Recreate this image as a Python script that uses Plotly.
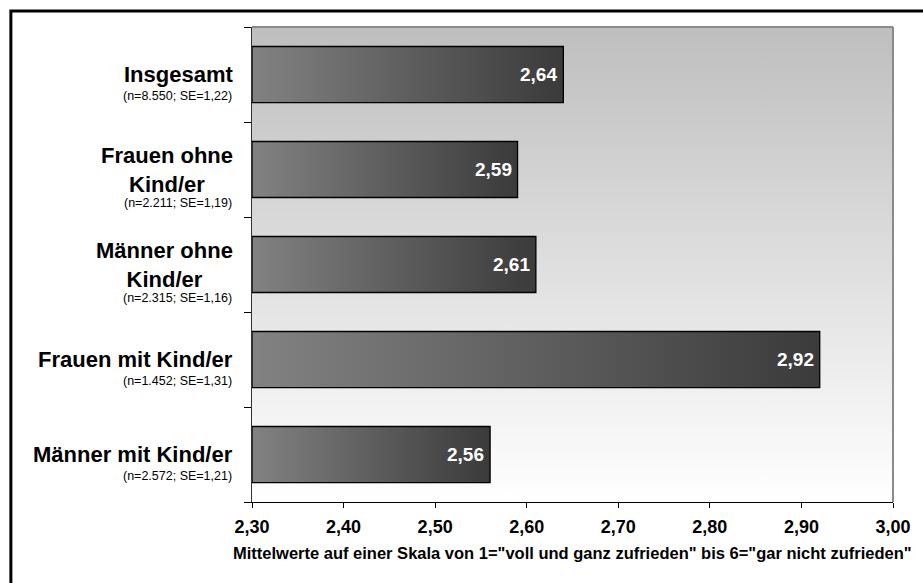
import plotly.graph_objects as go

# Mean satisfaction scores by group (1 = "voll und ganz zufrieden" ... 6 = "gar nicht zufrieden")
GROUPS = [
    "Insgesamt",
    "Frauen ohne<br>Kind/er",
    "Männer ohne<br>Kind/er",
    "Frauen mit Kind/er",
    "Männer mit Kind/er",
]
SAMPLE_INFO = [
    "(n=8.550; SE=1,22)",
    "(n=2.211; SE=1,19)",
    "(n=2.315; SE=1,16)",
    "(n=1.452; SE=1,31)",
    "(n=2.572; SE=1,21)",
]
MEANS = [2.64, 2.59, 2.61, 2.92, 2.56]
X_TICKS = [2.30, 2.40, 2.50, 2.60, 2.70, 2.80, 2.90, 3.00]
X_TITLE = 'Mittelwerte auf einer Skala von 1="voll und ganz zufrieden" bis 6="gar nicht zufrieden"'

X_MIN, X_MAX = X_TICKS[0], X_TICKS[-1]
FONT = "Liberation Sans, Arial, Helvetica, sans-serif"
BAR_HALF = 0.295

W, H = 923, 583
M_L, M_R, M_T, M_B = 252, 25, 27, 81
plot_w = W - M_L - M_R
plot_h = H - M_T - M_B

n = len(GROUPS)
idx = list(range(n))
y_lo, y_hi = -0.5, n - 0.5

fig = go.Figure()

# plot-area background: grey at the top fading to white at the bottom
fig.add_trace(go.Scatter(
    x=[X_MIN, X_MAX, X_MAX, X_MIN, X_MIN],
    y=[y_lo, y_lo, y_hi, y_hi, y_lo],
    mode="lines", line=dict(width=0), fill="toself",
    fillgradient=dict(type="vertical", start=y_hi, stop=y_lo,
                      colorscale=[[0, "#ffffff"], [1, "#bebebe"]]),
    hoverinfo="skip", showlegend=False,
))

# bars with a light-to-dark horizontal gradient
for i, v in zip(idx, MEANS):
    fig.add_trace(go.Scatter(
        x=[X_MIN, v, v, X_MIN, X_MIN],
        y=[i - BAR_HALF, i - BAR_HALF, i + BAR_HALF, i + BAR_HALF, i - BAR_HALF],
        mode="lines", line=dict(color="#000000", width=1.3), fill="toself",
        fillgradient=dict(type="horizontal", start=X_MIN, stop=v,
                          colorscale=[[0, "#828282"], [1, "#3a3a3a"]]),
        hoverinfo="skip", showlegend=False,
    ))

annotations = []
# value labels inside the bar ends
for i, v in zip(idx, MEANS):
    annotations.append(dict(
        x=v, y=i, xref="x", yref="y", xanchor="right", yanchor="middle",
        xshift=-4, text=f"{v:.2f}".replace(".", ","), showarrow=False,
        font=dict(family=FONT, size=19, color="#ffffff", weight="bold"),
    ))

# group labels with sample information underneath
for i, (g, s) in enumerate(zip(GROUPS, SAMPLE_INFO)):
    lines = g.count("<br>") + 1
    annotations.append(dict(
        x=0, y=i, xref="x domain", yref="y", xanchor="right", yanchor="middle",
        xshift=-17, align="center", text=g, showarrow=False,
        font=dict(family=FONT, size=22, color="#000000", weight="bold"),
    ))
    annotations.append(dict(
        x=0, y=i, xref="x domain", yref="y", xanchor="right", yanchor="middle",
        xshift=-18, yshift=-((lines - 1) * 12.5 + 21), text=s, showarrow=False,
        font=dict(family=FONT, size=12.5, color="#000000"),
    ))

# axis title
annotations.append(dict(
    x=0.5, y=0, xref="x domain", yref="paper", xanchor="center", yanchor="middle",
    yshift=-51, text=X_TITLE, showarrow=False,
    font=dict(family=FONT, size=16.5, color="#000000", weight="bold"),
))

shapes = [
    # grey frame on the top and right of the plot area
    dict(type="line", xref="x domain", yref="y domain", x0=0, x1=1, y0=1, y1=1,
         line=dict(color="#8a8a8a", width=2), layer="above"),
    dict(type="line", xref="x domain", yref="y domain", x0=1, x1=1, y0=0, y1=1,
         line=dict(color="#8a8a8a", width=2), layer="above"),
    # outer chart frame
    dict(type="rect", xref="paper", yref="paper",
         x0=(9 - M_L) / plot_w, x1=(W + 20 - M_L) / plot_w,
         y0=-(H + 20 - (H - M_B)) / plot_h, y1=1 + (M_T - 11) / plot_h,
         line=dict(color="#000000", width=3), fillcolor="rgba(0,0,0,0)"),
]

fig.update_layout(
    width=W, height=H,
    margin=dict(l=M_L, r=M_R, t=M_T, b=M_B, pad=0),
    paper_bgcolor="#ffffff", plot_bgcolor="#ffffff",
    separators=",.",
    font=dict(family=FONT, color="#000000"),
    annotations=annotations, shapes=shapes,
    showlegend=False,
)
fig.update_xaxes(
    range=[X_MIN, X_MAX], tickvals=X_TICKS, tickformat=".2f",
    ticks="outside", ticklen=5, tickwidth=1, tickcolor="#000000",
    ticklabelstandoff=3,
    showline=True, linecolor="#000000", linewidth=1,
    showgrid=False, zeroline=False,
    tickfont=dict(family=FONT, size=18, color="#000000", weight="bold"),
)
fig.update_yaxes(
    range=[y_hi, y_lo], tickvals=[k - 0.5 for k in range(n + 1)],
    showticklabels=False, ticks="outside", ticklen=7, tickwidth=1, tickcolor="#000000",
    showline=True, linecolor="#333333", linewidth=1,
    showgrid=False, zeroline=False,
)

fig.write_html("out.html")
